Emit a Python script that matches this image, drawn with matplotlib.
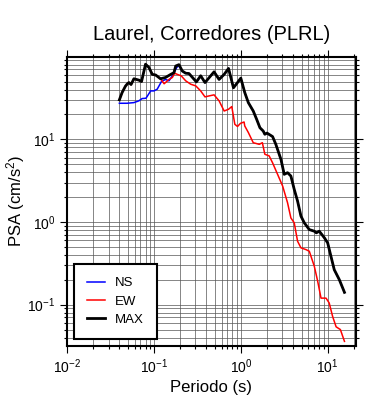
import numpy as np
import matplotlib
matplotlib.use("Agg")
import matplotlib.pyplot as plt
from matplotlib.ticker import LogLocator, NullFormatter

plt.rcParams['font.family'] = ['Liberation Sans', 'DejaVu Sans']
plt.rcParams['mathtext.fontset'] = 'custom'
plt.rcParams['mathtext.rm'] = 'Liberation Sans'
plt.rcParams['mathtext.it'] = 'Liberation Sans:italic'

station = 'Laurel, Corredores (PLRL)'

# NS component
ns_period = [0.04, 0.049, 0.0588, 0.067, 0.073, 0.081, 0.0916, 0.1, 0.109, 0.122,
             0.136, 0.149, 0.163, 0.183, 0.194, 0.212, 0.232, 0.253, 0.308, 0.345,
             0.387, 0.492, 0.562, 0.643, 0.722, 0.823, 0.916, 1.0, 1.11, 1.22,
             1.39, 1.52, 1.66, 1.81, 1.89, 2.0, 2.32, 2.53, 2.90, 3.16, 3.45,
             3.77, 4.12, 4.5, 4.92, 5.38, 6.14, 7.01, 7.4, 8.0, 9.17, 10.0, 10.9,
             11.9, 13.6, 15.6]
ns_psa = [27.3, 27.3, 27.8, 29.2, 31.1, 31.4, 38.5, 38.5, 40.4, 50,
          53, 51, 58.6, 74, 78, 67, 63, 62.5, 49.5, 58.7,
          48.6, 65.5, 53, 61, 72, 42, 48.6, 55, 36.8, 27.8,
          22, 17.5, 13.8, 12.6, 11.5, 11.9, 10.8, 8.7, 5.7, 3.77, 3.95,
          3.6, 2.48, 1.79, 1.18, 0.977, 0.81, 0.774, 0.74, 0.774, 0.643, 0.558, 0.385,
          0.265, 0.201, 0.141]

# EW component
ew_period = [0.04, 0.043, 0.047, 0.0495, 0.0515, 0.0545, 0.0588, 0.067, 0.072, 0.080,
             0.0875, 0.0957, 0.1045, 0.119, 0.131, 0.149, 0.163, 0.173, 0.186,
             0.206, 0.232, 0.265, 0.303, 0.345, 0.387, 0.431, 0.492, 0.562,
             0.643, 0.722, 0.787, 0.853, 0.916, 0.99, 1.09, 1.11, 1.22, 1.39,
             1.63, 1.77, 1.89, 2.12, 2.32, 2.65, 3.03, 3.45, 3.77, 4.12, 4.5,
             4.92, 5.62, 6.14, 7.01, 7.67, 8.38, 9.57, 10.4, 11.4, 12.5, 14.0, 15.6]
ew_psa = [30, 36.8, 44, 47, 48.6, 46, 54, 52, 50, 81,
          74, 61, 60, 54, 47, 53, 56, 63, 61,
          58.6, 51, 46.4, 44.3, 38.5, 32.6, 33.5, 34.5, 29.2,
          22, 23.1, 24.9, 15.2, 14.3, 15.6, 16.2, 14.5, 12.1, 9.1,
          8.7, 9.1, 6.6, 6.3, 5.2, 3.77, 2.72, 1.71, 1.12, 0.977, 0.586,
          0.487, 0.464, 0.443, 0.292, 0.192, 0.12, 0.12, 0.105, 0.072, 0.054, 0.05, 0.036]

# maximum of both components
max_period = [0.04, 0.043, 0.047, 0.0495, 0.0515, 0.0545, 0.0588, 0.067, 0.072, 0.080,
              0.0875, 0.0957, 0.1045, 0.119, 0.136, 0.156, 0.170, 0.178, 0.194,
              0.212, 0.232, 0.253, 0.308, 0.345, 0.387, 0.492, 0.562, 0.643,
              0.722, 0.823, 0.916, 1.0, 1.11, 1.22, 1.39, 1.52, 1.66, 1.81, 1.89,
              2.0, 2.32, 2.53, 2.90, 3.16, 3.45, 3.77, 4.12, 4.5, 4.92, 5.38, 6.14,
              7.01, 7.4, 8.0, 9.17, 10.0, 10.9, 11.9, 13.6, 15.6]
max_psa = [30, 36.8, 44, 47, 48.6, 46, 54, 52, 50, 81,
           74, 61, 60, 54, 56, 61, 64, 77, 80,
           67, 63, 62.5, 49.5, 58.7, 48.6, 65.5, 53, 61,
           72, 42, 48.6, 55, 36.8, 27.8, 22, 17.5, 13.8, 12.6, 11.5,
           11.9, 10.8, 8.7, 5.7, 3.77, 3.95, 3.6, 2.48, 1.79, 1.18, 0.977, 0.81,
           0.774, 0.74, 0.774, 0.643, 0.558, 0.385, 0.265, 0.201, 0.141]

fig = plt.figure(figsize=(3.9, 4.0), dpi=100)
ax = fig.add_axes([0.172, 0.136, 0.740, 0.7215])

ax.loglog(ns_period, ns_psa, color='#0000ff', lw=1.1, label='NS')
ax.loglog(ew_period, ew_psa, color='#ff0000', lw=1.1, label='EW')
ax.loglog(max_period, max_psa, color='black', lw=2.0, label='MAX')

ax.set_xlim(0.01, 21)
ax.set_ylim(0.032, 99)

for axis in (ax.xaxis, ax.yaxis):
    axis.set_major_locator(LogLocator(base=10, numticks=10))
    axis.set_minor_locator(LogLocator(base=10, subs=np.arange(2, 10), numticks=10))
    axis.set_minor_formatter(NullFormatter())

ax.grid(True, which='both', color='#555555', lw=0.5)
ax.tick_params(which='both', direction='out', top=True, right=True, width=0.8)
ax.tick_params(which='major', length=5, labelsize=10)
ax.tick_params(which='minor', length=2.5)
for s in ax.spines.values():
    s.set_linewidth(1.5)

ax.set_title(station, fontsize=14.5, pad=12)
ax.set_xlabel('Periodo (s)', fontsize=12, labelpad=3)
ax.set_ylabel('PSA (cm/s$^2$)', fontsize=12, labelpad=0)

leg = ax.legend(loc='lower left', fancybox=False, edgecolor='black', framealpha=1,
                fontsize=9.5, handlelength=1.4, handletextpad=0.7,
                borderpad=1.0, labelspacing=0.45)
leg.get_frame().set_linewidth(1.5)

fig.savefig('out.png', dpi=100)
